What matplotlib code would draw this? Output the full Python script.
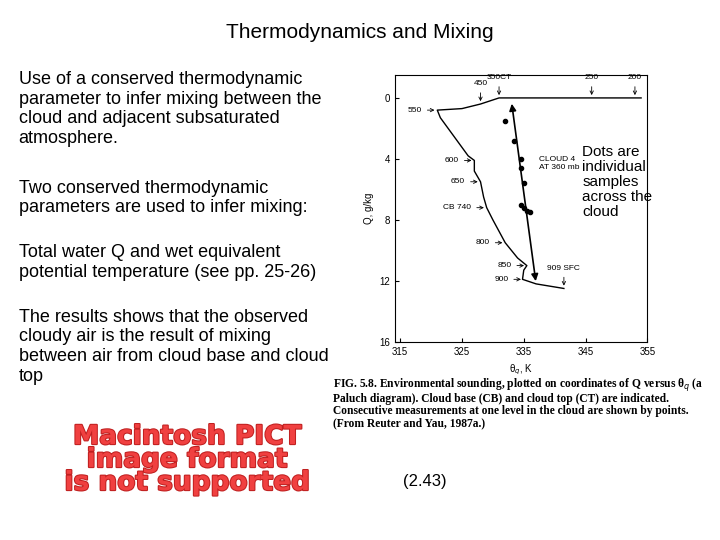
import matplotlib
matplotlib.use("Agg")
import matplotlib.pyplot as plt
import matplotlib.patheffects as pe

env_theta = [354, 331, 328, 325, 321, 321.5, 326, 327, 327, 328, 328.5, 329, 330, 332, 334, 335.5, 335, 334.8, 337, 341.5]
env_q     = [0,   0,   0.4, 0.7, 0.8, 1.3,   3.8, 4.1, 4.8, 5.5, 6.5,   7.2, 8,   9.5, 10.5, 11, 11.3, 11.9, 12.2, 12.5]
dot_theta = [332, 333.5, 334.5, 334.5, 335, 334.5, 335, 335.5, 336]
dot_q     = [1.5, 2.8,   4.0,   4.6,   5.6, 7.0,   7.2, 7.4,   7.5]
labels = [("350CT", 331, 0, 'top'), ("450", 328, 0.4, 'top'), ("250", 346, 0, 'top'), ("200", 353, 0, 'top'),
          ("550", 321, 0.8, 'left'), ("600", 327, 4.1, 'left'), ("650", 328, 5.5, 'left'),
          ("CB 740", 329, 7.2, 'left'), ("800", 332, 9.5, 'left'), ("850", 335.5, 11, 'left'),
          ("900", 335, 11.9, 'left'), ("909 SFC", 341.5, 12.5, 'top')]
xticks = [315, 325, 335, 345, 355]
xticklabels = ["315", "325", "335", "345", "355"]
yticks = [0, 4, 8, 12, 16]

plt.rcParams['font.family'] = ['Liberation Sans', 'DejaVu Sans']
fig = plt.figure(figsize=(7.2, 5.4), dpi=100)
fig.text(0.5, 0.94, "Thermodynamics and Mixing", ha='center', va='center', fontsize=15)
kw = dict(ha='left', va='top', fontsize=13, linespacing=1.2)
fig.text(0.026, 0.868, "Use of a conserved thermodynamic\nparameter to infer mixing between the\n"
         "cloud and adjacent subsaturated\natmosphere.", **kw)
fig.text(0.026, 0.667, "Two conserved thermodynamic\nparameters are used to infer mixing:", **kw)
fig.text(0.026, 0.548, "Total water Q and wet equivalent\npotential temperature (see pp. 25-26)", **kw)
fig.text(0.026, 0.428, "The results shows that the observed\ncloudy air is the result of mixing\nbetween air from cloud base and cloud\ntop", **kw)
fig.text(0.26, 0.148, "Macintosh PICT\nimage format\nis not supported", ha='center', va='center', fontsize=19,
         fontweight='bold', color='#f04040', linespacing=0.85, family=['DejaVu Sans'],
         path_effects=[pe.withStroke(linewidth=1.5, foreground='#c02020')])
fig.text(0.59, 0.108, "(2.43)", ha='center', va='center', fontsize=12)
fig.text(0.462, 0.255, "FIG. 5.8. Environmental sounding, plotted on coordinates of Q versus θ$_q$ (a\n"
         "Paluch diagram). Cloud base (CB) and cloud top (CT) are indicated.\n"
         "Consecutive measurements at one level in the cloud are shown by points.\n"
         "(From Reuter and Yau, 1987a.)", ha='left', va='center', fontsize=8.3,
         family=['Liberation Serif', 'DejaVu Serif'], fontweight='bold', linespacing=1.0)

ax = fig.add_axes([0.549, 0.367, 0.35, 0.494])
ax.plot(env_theta, env_q, color='k', lw=1)
ax.annotate("", xy=(333, 0.2), xytext=(337, 12.2), arrowprops=dict(arrowstyle='<|-|>', color='k', lw=1.2))
ax.plot(dot_theta, dot_q, 'ko', ms=3)
for t, x, y, pos in labels:
    if pos == 'top':
        ax.annotate(t, xy=(x, y), xytext=(x, y - 1.1), ha='center', va='bottom', fontsize=6,
                    arrowprops=dict(arrowstyle='->', lw=0.6))
    else:
        ax.annotate(t, xy=(x, y), xytext=(x - 2.5, y), ha='right', va='center', fontsize=6,
                    arrowprops=dict(arrowstyle='->', lw=0.6))
ax.text(337.5, 4.3, "CLOUD 4\nAT 360 mb", fontsize=6, va='center')
ax.text(344.5, 5.5, "Dots are\nindividual\nsamples\nacross the\ncloud", fontsize=11, va='center', linespacing=1.1)
ax.set_xlim(314.2, 355)
ax.set_ylim(16, -1.5)
ax.set_xticks(xticks)
ax.set_xticklabels(xticklabels, fontsize=7)
ax.set_yticks(yticks)
ax.set_yticklabels([str(v) for v in yticks], fontsize=7)
ax.tick_params(direction='in', length=3)
ax.set_xlabel("θ$_q$, K", fontsize=7)
ax.set_ylabel("Q, g/kg", fontsize=7)
fig.savefig("out.png", dpi=100)
